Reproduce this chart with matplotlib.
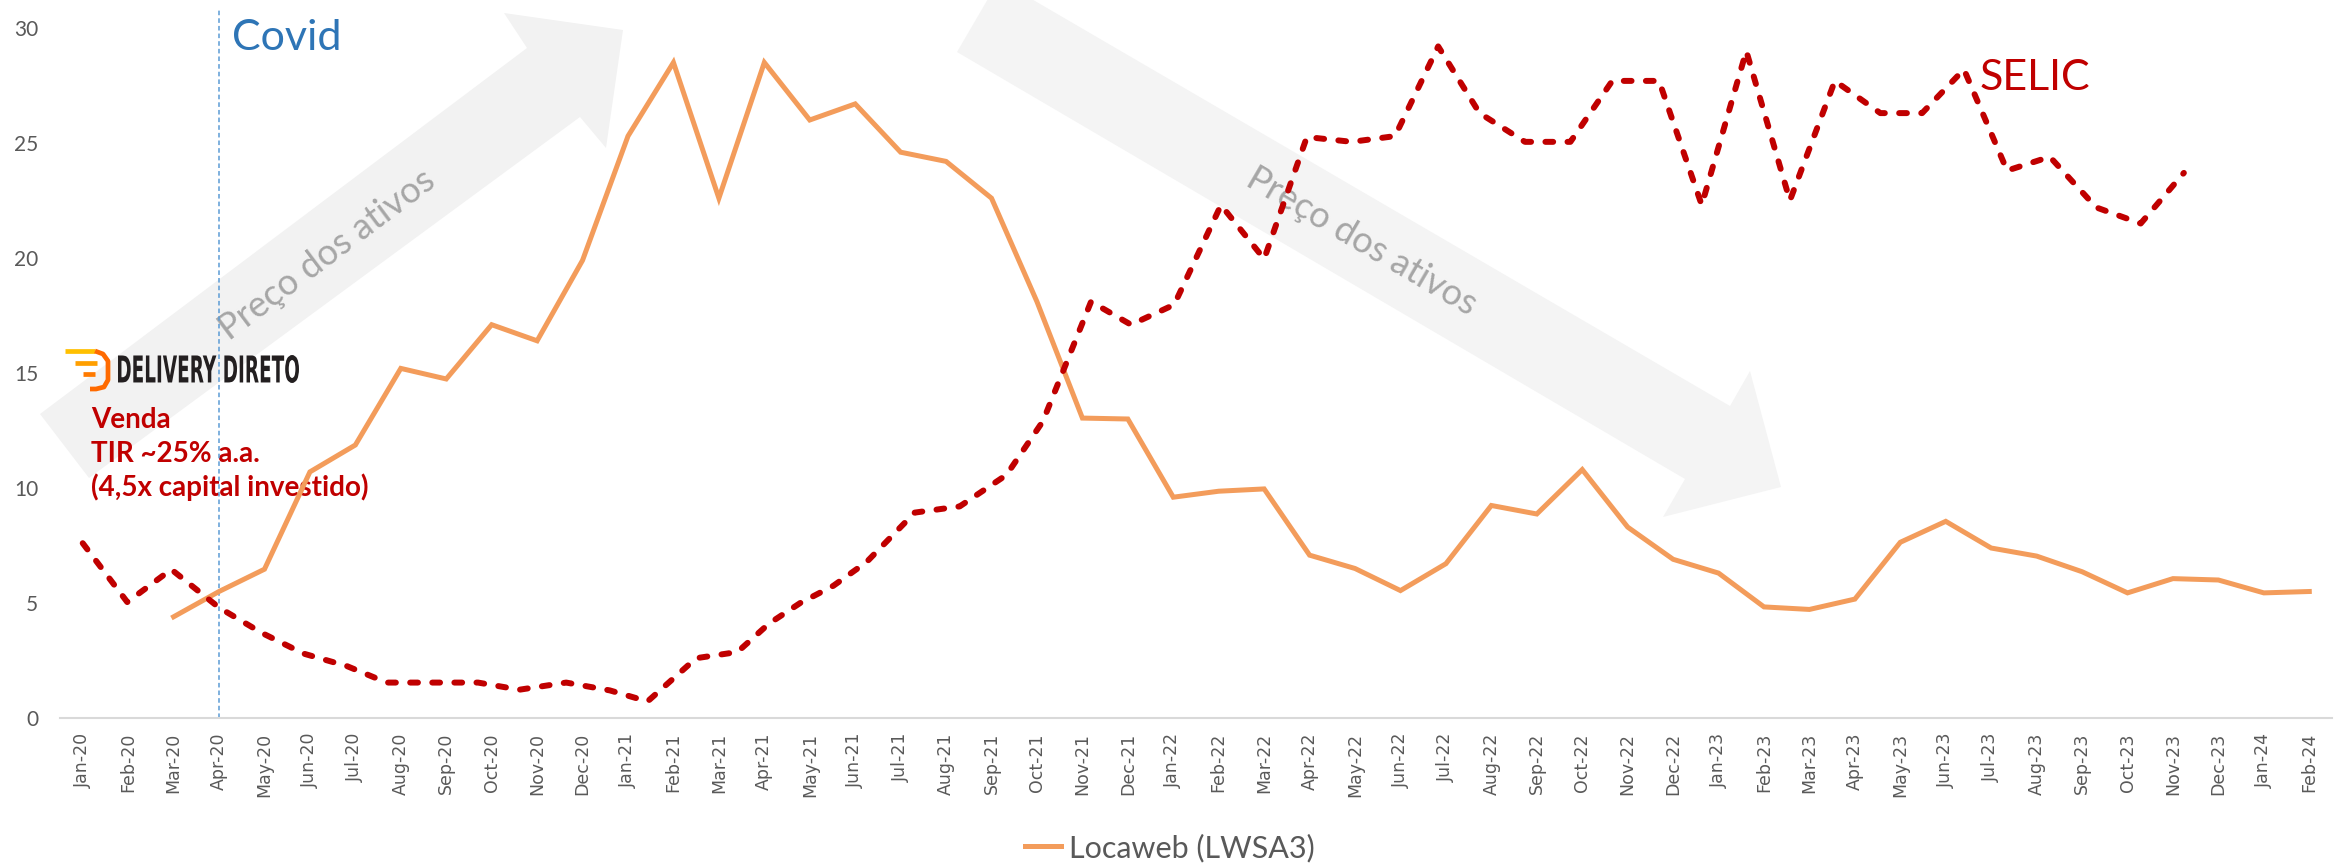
import matplotlib
matplotlib.use("Agg")
import matplotlib.pyplot as plt
import pandas as pd
from matplotlib import font_manager
from matplotlib.patches import Polygon, PathPatch
from matplotlib.textpath import TextPath
from matplotlib.font_manager import FontProperties
from matplotlib.transforms import Affine2D
from matplotlib.lines import Line2D

plt.rcParams['font.family'] = ['Lato', 'DejaVu Sans']

# monthly category axis Jan-20 .. Feb-24
months = pd.date_range("2020-01-01", "2024-02-01", freq="MS").strftime("%b-%y").tolist()

# Locaweb (LWSA3) price, first value is Mar-20
locaweb_start = 2
locaweb = [4.4, 5.5, 6.47, 10.7, 11.87, 15.2, 14.74, 17.1, 16.4, 19.9,
           25.3, 28.5, 22.6, 28.5, 26.0, 26.7, 24.6, 24.2, 22.6, 18.1, 13.04, 13.0,
           9.6, 9.86, 9.96, 7.08, 6.5, 5.54, 6.71, 9.24, 8.87, 10.8, 8.3, 6.9,
           6.3, 4.83, 4.72, 5.17, 7.64, 8.55, 7.39, 7.04, 6.36, 5.44, 6.06, 6.0,
           5.44, 5.5]

# SELIC curve: its points do not sit exactly on the month ticks
selic_pos = [0, 0.98, 1.95, 3.0, 3.94, 4.86, 5.81, 6.69, 7.7, 8.7, 9.61, 10.64,
             11.6, 12.43, 13.5, 14.41, 15.1, 15.79, 16.52, 17.25, 18.31, 19.3,
             20.33, 21.13, 22.19, 23.07, 24.02, 25.05, 26.0, 26.94, 27.93, 28.88,
             29.83, 30.74, 31.74, 32.74, 33.66, 34.69, 35.63, 36.61, 37.57, 38.56,
             39.56, 40.48, 41.4, 42.35, 43.29, 44.31, 45.29, 46.24]
selic = [7.6, 5.04, 6.46, 4.8, 3.7, 2.8, 2.26, 1.54, 1.54, 1.54, 1.23, 1.54,
         1.2, 0.72, 2.6, 2.87, 4.1, 5.0, 5.75, 6.78, 8.93, 9.2,
         10.57, 12.9, 18.1, 17.1, 17.97, 22.3, 19.96, 25.26, 25.05, 25.3,
         29.2, 26.3, 25.05, 25.05, 27.7, 27.7, 22.3, 29.0, 22.5, 27.7,
         26.3, 26.3, 28.2, 23.8, 24.4, 22.2, 21.5, 23.7]

covid_month = "Apr-20"
yticks = [0, 5, 10, 15, 20, 25, 30]

# narrow font for the month labels, if one is around
installed = {f.name for f in font_manager.fontManager.ttflist}
tick_font, tick_size = "DejaVu Sans", 12.5
for name, size in (("Liberation Sans Narrow", 14), ("DejaVu Sans Condensed", 13)):
    if name in installed:
        tick_font, tick_size = name, size
        break

W, H, DPI = 2344, 866, 100
fig = plt.figure(figsize=(W / DPI, H / DPI), dpi=DPI)

# background layer in pixel coords: arrows, logo, notes
bg = fig.add_axes([0, 0, 1, 1], zorder=0)
bg.set_xlim(0, W)
bg.set_ylim(H, 0)
bg.axis("off")

ax = fig.add_axes([60 / W, 148 / H, 2272 / W, 690 / H], zorder=1)
ax.patch.set_alpha(0)

# big "price of assets" arrows
arrow_up = [(40, 414), (89, 478), (580, 117), (606, 148), (623, 30), (504, 13), (527, 48)]
arrow_down = [(957, 52), (999, -20), (1730, 406), (1750, 371), (1781, 487), (1663, 517), (1685, 479)]
for pts, c in ((arrow_up, "#f2f2f2"), (arrow_down, "#f4f4f4")):
    bg.add_patch(Polygon(pts, closed=True, fc=c, ec="none"))
bg.text(327, 255, "Preço dos ativos", rotation=36.9, rotation_mode="anchor",
        ha="center", va="center", fontsize=26, color="#a6a6a6")
bg.text(1362, 241, "Preço dos ativos", rotation=-30.3, rotation_mode="anchor",
        ha="center", va="center", fontsize=26, color="#a6a6a6")

# Delivery Direto logo: icon + stretched wordmark
for xs, ys, c in (([65, 95], [351, 351], "#ffc000"),
                  ([75, 97], [363, 363], "#ff9f00"),
                  ([83, 95], [374, 374], "#ff7a00"),
                  ([95, 103, 108, 108, 104, 96, 90], [351, 354, 361, 380, 387, 389, 389], "#ff6a00")):
    bg.plot(xs, ys, color=c, lw=3.4, solid_capstyle="butt", solid_joinstyle="round")
tp = TextPath((0, 0), "DELIVERY DIRETO", size=100,
              prop=FontProperties(family="DejaVu Sans", weight="bold"))
ext = tp.get_extents()
tr = Affine2D().translate(-ext.x0, -ext.y0).scale(181 / ext.width, -28 / ext.height).translate(118, 383)
bg.add_patch(PathPatch(tr.transform_path(tp), fc="#231f20", ec="none"))

for i, line in enumerate(["Venda", "TIR ~25% a.a.", "(4,5x capital investido)"]):
    bg.text(91, 428 + 34 * i, line, fontsize=20, fontweight="bold", color="#c00000", va="baseline")

bg.text(232, 50, "Covid", fontsize=31, color="#2e75b6", va="baseline")
bg.text(1980, 90, "SELIC", fontsize=31, color="#c00000", va="baseline")

# data
x = list(range(len(months)))
ax.plot(x[locaweb_start:locaweb_start + len(locaweb)], locaweb,
        color="#f39c5b", lw=3.6, solid_joinstyle="miter", zorder=3)
ax.plot(selic_pos, selic, color="#c00000", lw=4.3, dashes=(1.3, 2.4),
        dash_capstyle="round", zorder=4)

ax.axvline(months.index(covid_month), ymin=0, ymax=1.026, color="#5b9bd5",
           lw=1.1, dashes=(3, 2), clip_on=False, zorder=2)

ax.set_xlim(-0.5, len(months) - 0.5)
ax.set_ylim(0, 30)
ax.set_xticks(x)
ax.set_xticklabels(months, rotation=90, fontsize=tick_size, color="#595959",
                   family=tick_font)
ax.set_yticks(yticks)
ax.set_yticklabels([str(v) for v in yticks], fontsize=15, color="#595959")
ax.tick_params(axis="x", length=0, pad=10.8)
ax.tick_params(axis="y", length=0, pad=15.8)
for s in ("left", "right", "top"):
    ax.spines[s].set_visible(False)
ax.spines["bottom"].set_color("#d9d9d9")
ax.spines["bottom"].set_linewidth(1.5)

fig.legend(handles=[Line2D([], [], color="#f39c5b", lw=3.6)], labels=["Locaweb (LWSA3)"],
           loc="center", bbox_to_anchor=(0.499, 0.021), frameon=False, fontsize=22,
           handlelength=1.2, handletextpad=0.25, labelcolor="#595959")

fig.savefig("out.png", dpi=DPI)
